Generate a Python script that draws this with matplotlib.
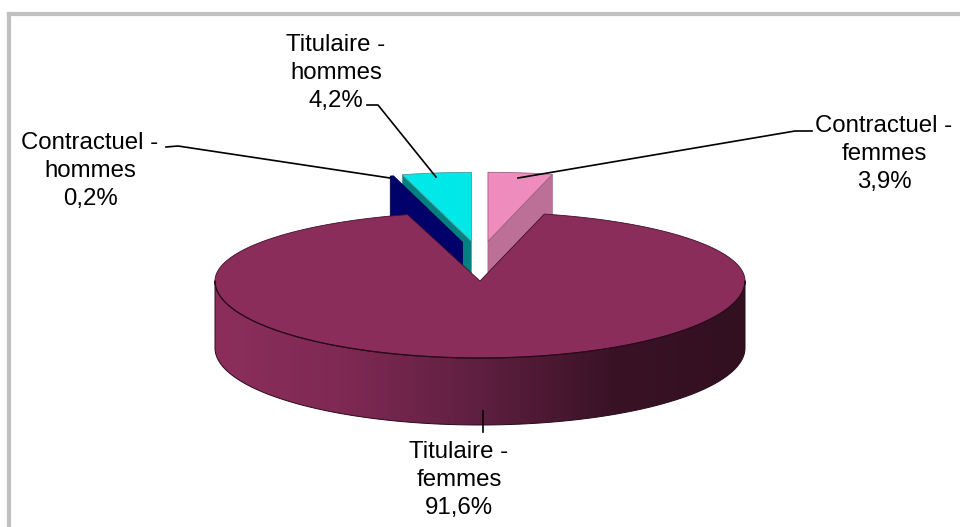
import numpy as np
import matplotlib.pyplot as plt
from matplotlib.patches import Polygon
from matplotlib.colors import LinearSegmentedColormap

# slices, clockwise from 12 o'clock
categories = ['Contractuel -\nfemmes', 'Titulaire -\nfemmes', 'Contractuel -\nhommes', 'Titulaire -\nhommes']
values = [3.9, 91.6, 0.2, 4.2]
value_labels = ['3,9%', '91,6%', '0,2%', '4,2%']
exploded = [True, False, True, True]

top_colors = ['#ee8cbe', '#8b2d5b', '#000080', '#00e8e8']
cut_colors = ['#bc7098', '#6e2348', '#00006a', '#008080']
edge_colors = ['#a0607f', '#3d1028', '#000050', '#4d9a9a']

# label placement (pixels): centre x, first baseline, leader line
label_pos = [(884, 132), (459, 458), (90, 149), (336, 51)]
leaders = [
    [(812, 131), (795, 131), (518, 178)],
    [(483, 411), (483, 432)],
    [(166, 147), (178, 146), (390, 178)],
    [(367, 105), (378, 105), (436, 177)],
]

CX, CY, A, B_BACK, B_FRONT, DEPTH = 480, 281, 265, 69, 77, 67

fig = plt.figure(figsize=(9.6, 5.27), dpi=100)
ax = fig.add_axes([0, 0, 1, 1])
ax.set_xlim(0, 960)
ax.set_ylim(527, 0)
ax.axis('off')


def proj(theta, z=0.0, off=(0, 0), r=1.0):
    theta = np.asarray(theta, dtype=float)
    c, s = np.cos(theta), np.sin(theta)
    b = np.where(c > 0, B_BACK, B_FRONT)
    return CX + off[0] + A * r * s, CY + off[1] - b * r * c + z


vals = np.array(values) / np.sum(values)
bounds = np.concatenate([[0], np.cumsum(vals)]) * 2 * np.pi

# side shading: light on the left, dark on the right
side_cmap = LinearSegmentedColormap.from_list(
    'side', ['#8c2e5c', '#7e2953', '#5e1f40', '#3a1226', '#321020'])

for i in [0, 3, 2, 1]:
    t0, t1 = bounds[i], bounds[i + 1]
    tm = (t0 + t1) / 2
    off = (65 * np.sin(tm), -40 * np.cos(tm)) if exploded[i] else (0, 0)
    apex = (CX + off[0], CY + off[1])

    # radial cut faces
    for t, vis in [(t0, np.sin(t0) < 0), (t1, np.sin(t1) > 0)]:
        if not vis:
            continue
        rx, ry = proj(t, 0, off)
        face = [apex, (rx, ry), (rx, ry + DEPTH), (apex[0], apex[1] + DEPTH)]
        ax.add_patch(Polygon(face, closed=True, facecolor=cut_colors[i],
                             edgecolor=edge_colors[i], lw=0.5, zorder=2))

    # outer side, front part only
    lo, hi = max(t0, np.pi / 2), min(t1, 3 * np.pi / 2)
    if hi > lo:
        ts = np.linspace(lo, hi, 300)
        xs, ys = proj(ts, 0, off)
        side = list(zip(xs, ys)) + list(zip(xs[::-1], ys[::-1] + DEPTH))
        patch = Polygon(side, closed=True, facecolor='none',
                        edgecolor='#2a0a1a', lw=0.7, zorder=3)
        ax.add_patch(patch)
        grad = np.linspace(0, 1, 256).reshape(1, -1)
        im = ax.imshow(grad, cmap=side_cmap, aspect='auto', zorder=2,
                       extent=(xs.min(), xs.max(), ys.max() + DEPTH, ys.min()),
                       interpolation='bilinear')
        im.set_clip_path(patch)

    # top face
    ts = np.linspace(t0, t1, max(int((t1 - t0) * 80), 4))
    xs, ys = proj(ts, 0, off)
    pts = [apex] + list(zip(xs, ys))
    ax.add_patch(Polygon(pts, closed=True, facecolor=top_colors[i],
                         edgecolor=edge_colors[i], lw=0.6, zorder=3))
    if hi > lo:
        tf = np.linspace(lo, hi, 200)
        fx, fy = proj(tf, 0, off)
        ax.plot(fx, fy, color='#2a0a1a', lw=0.9, zorder=4)

# labels and leader lines
for i in range(len(values)):
    lx, ly = label_pos[i]
    lines = categories[i].split('\n') + [value_labels[i]]
    for j, line in enumerate(lines):
        ax.text(lx, ly + 28 * j, line, ha='center', va='baseline',
                fontsize=17.3, family='Liberation Sans', color='black', zorder=6)
    px, py = zip(*leaders[i])
    ax.plot(px, py, color='black', lw=1.2, zorder=5)

# chart frame
ax.plot([9, 9], [527, 14], color='#c0c0c0', lw=3, solid_capstyle='projecting', zorder=1)
ax.plot([9, 960], [14, 14], color='#c0c0c0', lw=3, solid_capstyle='projecting', zorder=1)

ax.set_xlim(0, 960)
ax.set_ylim(527, 0)
fig.savefig('out.png', dpi=100)
